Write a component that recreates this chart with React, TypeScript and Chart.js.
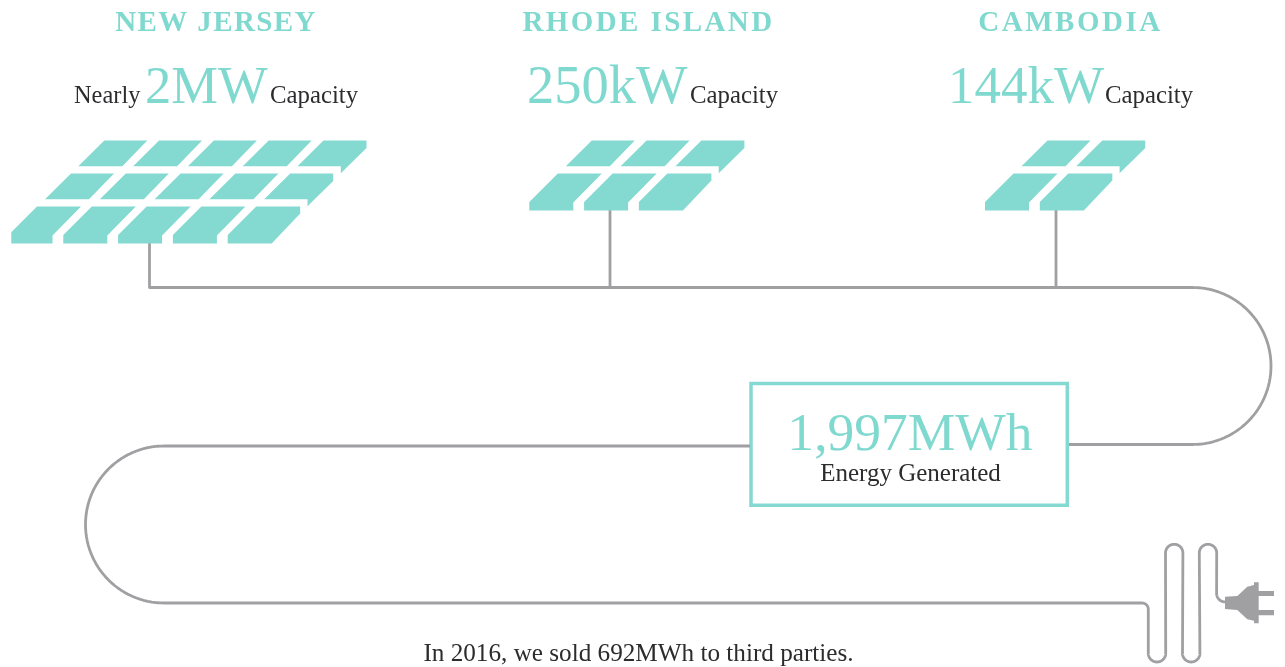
import React, { useEffect, useRef } from "react";
import { Chart, registerables } from "chart.js";

Chart.register(...registerables);

// ---- content ----
const siteNames = ["NEW JERSEY", "RHODE ISLAND", "CAMBODIA"];
const capacityPrefixes = ["Nearly", "", ""];
const capacityValues = ["2MW", "250kW", "144kW"];
const capacitySuffix = "Capacity";
const panelRows = [3, 2, 2];
const panelCols = [5, 3, 2];
const energyValue = "1,997MWh";
const energyLabel = "Energy Generated";
const footnote = "In 2016, we sold 692MWh to third parties.";

// ---- layout (in the 1285x667 drawing space of the chart's scales) ----
const W = 1285;
const H = 667;
const TEAL = "#84d9d1";
const TEAL_TEXT = "#80d9cf";
const GREY = "#a0a0a3";
const INK = "#2c2c2e";
const SERIF = '"Liberation Serif", serif';

const arrayOrigin = [8.5, 529.3, 985];
const arrayClip = [11.3, 0, 0];
const stubX = [149.5, 610, 1056];
const headingCx = [216, 648.5, 1070.5];
const headingSpacing = [1.4, 2.4, 2.5];
const prefixX = [74, 0, 0];
const valueX = [145, 527, 948];
const suffixX = [270, 690, 1105];
const valueSize = [52.5, 54.5, 53];

type P = { x: number; y: number };

function panelPolys(i: number): P[][] {
  const rows = panelRows[i];
  const cols = panelCols[i];
  const out: P[][] = [];
  const top = 140.5;
  for (let r = 0; r < rows; r++) {
    const yt = top + 33 * r;
    const bottomRow = r === rows - 1;
    const fromBottom = rows - 1 - r;
    const shift = fromBottom === 0 ? 0 : 36.5 + 33.3 * (fromBottom - 1);
    for (let c = 0; c < cols; c++) {
      const L = arrayOrigin[i] + shift + 54.8 * c;
      const last = c === cols - 1;
      if (bottomRow) {
        const yb = yt + 37;
        const tl = L + 28.5;
        const tr = tl + 44;
        const l = Math.max(L, c === 0 ? arrayClip[i] : L);
        const lipL = yt + (tl - l);
        if (last) {
          out.push([
            { x: l, y: yb }, { x: l, y: lipL }, { x: tl, y: yt }, { x: tr, y: yt },
            { x: tr, y: yt + 7 }, { x: L + 44, y: yb },
          ]);
        } else {
          out.push([
            { x: l, y: yb }, { x: l, y: lipL }, { x: tl, y: yt }, { x: tr, y: yt },
            { x: L + 44, y: yt + 29 }, { x: L + 44, y: yb },
          ]);
        }
      } else {
        const yb = yt + 25.7;
        const tl = L + 26;
        const tr = tl + 43;
        if (last) {
          out.push([
            { x: L, y: yb }, { x: tl, y: yt }, { x: tr, y: yt }, { x: tr, y: yt + 7.5 },
            { x: L + 43.3, y: yb + 7 }, { x: L + 43.3, y: yb },
          ]);
        } else {
          out.push([{ x: L, y: yb }, { x: tl, y: yt }, { x: tr, y: yt }, { x: L + 44, y: yb }]);
        }
      }
    }
  }
  return out;
}

// quarter / half turns of the cable, walked in small angular steps
function arc(cx: number, cy: number, r: number, fromDeg: number, toDeg: number): P[] {
  const steps = Math.max(6, Math.ceil(Math.abs(toDeg - fromDeg) / 3));
  const pts: P[] = [];
  for (let s = 0; s <= steps; s++) {
    const a = ((fromDeg + ((toDeg - fromDeg) * s) / steps) * Math.PI) / 180;
    pts.push({ x: cx + r * Math.cos(a), y: cy + r * Math.sin(a) });
  }
  return pts;
}

const busLine: P[] = [
  { x: stubX[0], y: 243 },
  { x: stubX[0], y: 287.5 },
  ...arc(1192.5, 366, 78.5, -90, 90),
  { x: 1069, y: 444.5 },
];

const R = 8.7;
const cableLine: P[] = [
  { x: 750, y: 446 },
  ...arc(164, 524.5, 78.5, -90, -270),
  { x: 1142, y: 603 },
  ...arc(1142, 609.3, 6.3, -90, 0),
  ...arc(1157, 653.3, R, 180, 0),
  ...arc(1174.2, 553, R, 180, 360),
  ...arc(1191.2, 653.3, R, 180, 0),
  ...arc(1208, 553, R, 180, 360),
  ...arc(1225, 593.5, 8.4, 180, 90),
];

const plugOutline: P[] = [
  [285, 200], [322, 198], [352, 170], [372, 165], [372, 157], [386, 157], [386, 183],
  [432, 183], [432, 198], [386, 198], [386, 240], [432, 240], [432, 256], [386, 256],
  [386, 280], [372, 280], [372, 272], [352, 268], [322, 240], [285, 237],
].map(([zx, zy]) => ({ x: 1130 + zx / 3, y: 530 + zy / 3 }));

const boxOutline: P[] = [
  { x: 900, y: 383.5 },
  { x: 1067.3, y: 383.5 },
  { x: 1067.3, y: 505.3 },
  { x: 751, y: 505.3 },
  { x: 751, y: 383.5 },
  { x: 900, y: 383.5 },
];

// a vanishing tension keeps Chart.js off its per-column "fast path", which would
// collapse vertical runs and near-vertical arcs
const base = { showLine: true, pointRadius: 0, pointHoverRadius: 0, tension: 0.0001 };

function buildDatasets(): any[] {
  const sets: any[] = [];
  const wire = (data: P[]) =>
    sets.push({ ...base, data, borderColor: GREY, borderWidth: 2.8, fill: false, borderJoinStyle: "round", borderCapStyle: "butt" });
  const shape = (data: P[], color: string) =>
    sets.push({ ...base, showLine: false, data, polygonFill: color });
  wire(busLine);
  wire([{ x: stubX[1], y: 209 }, { x: stubX[1], y: 287.5 }]);
  wire([{ x: stubX[2], y: 209 }, { x: stubX[2], y: 287.5 }]);
  wire(cableLine);
  shape(plugOutline, GREY);
  siteNames.forEach((_, i) => {
    panelPolys(i).forEach((poly) => shape(poly, TEAL));
  });
  sets.push({ ...base, data: boxOutline, borderColor: TEAL, borderWidth: 3.5, fill: false, borderJoinStyle: "miter" });
  return sets;
}

// closes and fills the datasets that outline a shape, from the points the scales placed
const polygonPlugin = {
  id: "polygonFill",
  afterDatasetsDraw(chart: any) {
    const { ctx } = chart;
    chart.data.datasets.forEach((ds: any, idx: number) => {
      if (!ds.polygonFill) return;
      const pts = chart.getDatasetMeta(idx).data;
      ctx.save();
      ctx.beginPath();
      pts.forEach((p: any, k: number) => (k ? ctx.lineTo(p.x, p.y) : ctx.moveTo(p.x, p.y)));
      ctx.closePath();
      ctx.fillStyle = ds.polygonFill;
      ctx.fill();
      ctx.restore();
    });
  },
};

const textPlugin = {
  id: "infographicText",
  afterDatasetsDraw(chart: any) {
    const { ctx, scales } = chart;
    const X = (v: number) => scales.x.getPixelForValue(v);
    const Y = (v: number) => scales.y.getPixelForValue(v);
    const put = (t: string, x: number, y: number, font: string, color: string, align: CanvasTextAlign = "left", spacing = "0px") => {
      ctx.font = font;
      ctx.fillStyle = color;
      ctx.textAlign = align;
      ctx.textBaseline = "alphabetic";
      (ctx as any).letterSpacing = spacing;
      ctx.fillText(t, X(x), Y(y));
    };
    ctx.save();
    siteNames.forEach((name, i) => {
      put(name, headingCx[i], 31, `bold 29px ${SERIF}`, TEAL_TEXT, "center", `${headingSpacing[i]}px`);
      if (capacityPrefixes[i]) put(capacityPrefixes[i], prefixX[i], 103, `24.4px ${SERIF}`, INK);
      put(capacityValues[i], valueX[i], 103, `${valueSize[i]}px ${SERIF}`, TEAL_TEXT);
      put(capacitySuffix, suffixX[i], 103, `24.8px ${SERIF}`, INK);
    });
    put(energyValue, 910, 450, `53.5px ${SERIF}`, TEAL_TEXT, "center");
    put(energyLabel, 910.5, 481, `25px ${SERIF}`, INK, "center");
    put(footnote, 638.5, 661, `25.2px ${SERIF}`, INK, "center");
    ctx.restore();
  },
};

export default function App() {
  const ref = useRef<HTMLCanvasElement | null>(null);
  useEffect(() => {
    document.body.style.margin = "0";
    document.body.style.background = "#ffffff";
    const chart = new Chart(ref.current as HTMLCanvasElement, {
      type: "scatter",
      data: { datasets: buildDatasets() },
      options: {
        animation: false,
        responsive: false,
        clip: false as any,
        layout: { padding: 0 },
        events: [],
        plugins: { legend: { display: false }, tooltip: { enabled: false }, title: { display: false } },
        scales: {
          x: { type: "linear", min: 0, max: W, display: false },
          y: { type: "linear", min: 0, max: H, reverse: true, display: false },
        },
      },
      plugins: [polygonPlugin, textPlugin],
    } as any);
    return () => chart.destroy();
  }, []);
  return (
    <div style={{ width: W, height: H, overflow: "hidden", background: "#fff" }}>
      <canvas ref={ref} width={W} height={H} style={{ display: "block", width: W, height: H }} />
    </div>
  );
}
